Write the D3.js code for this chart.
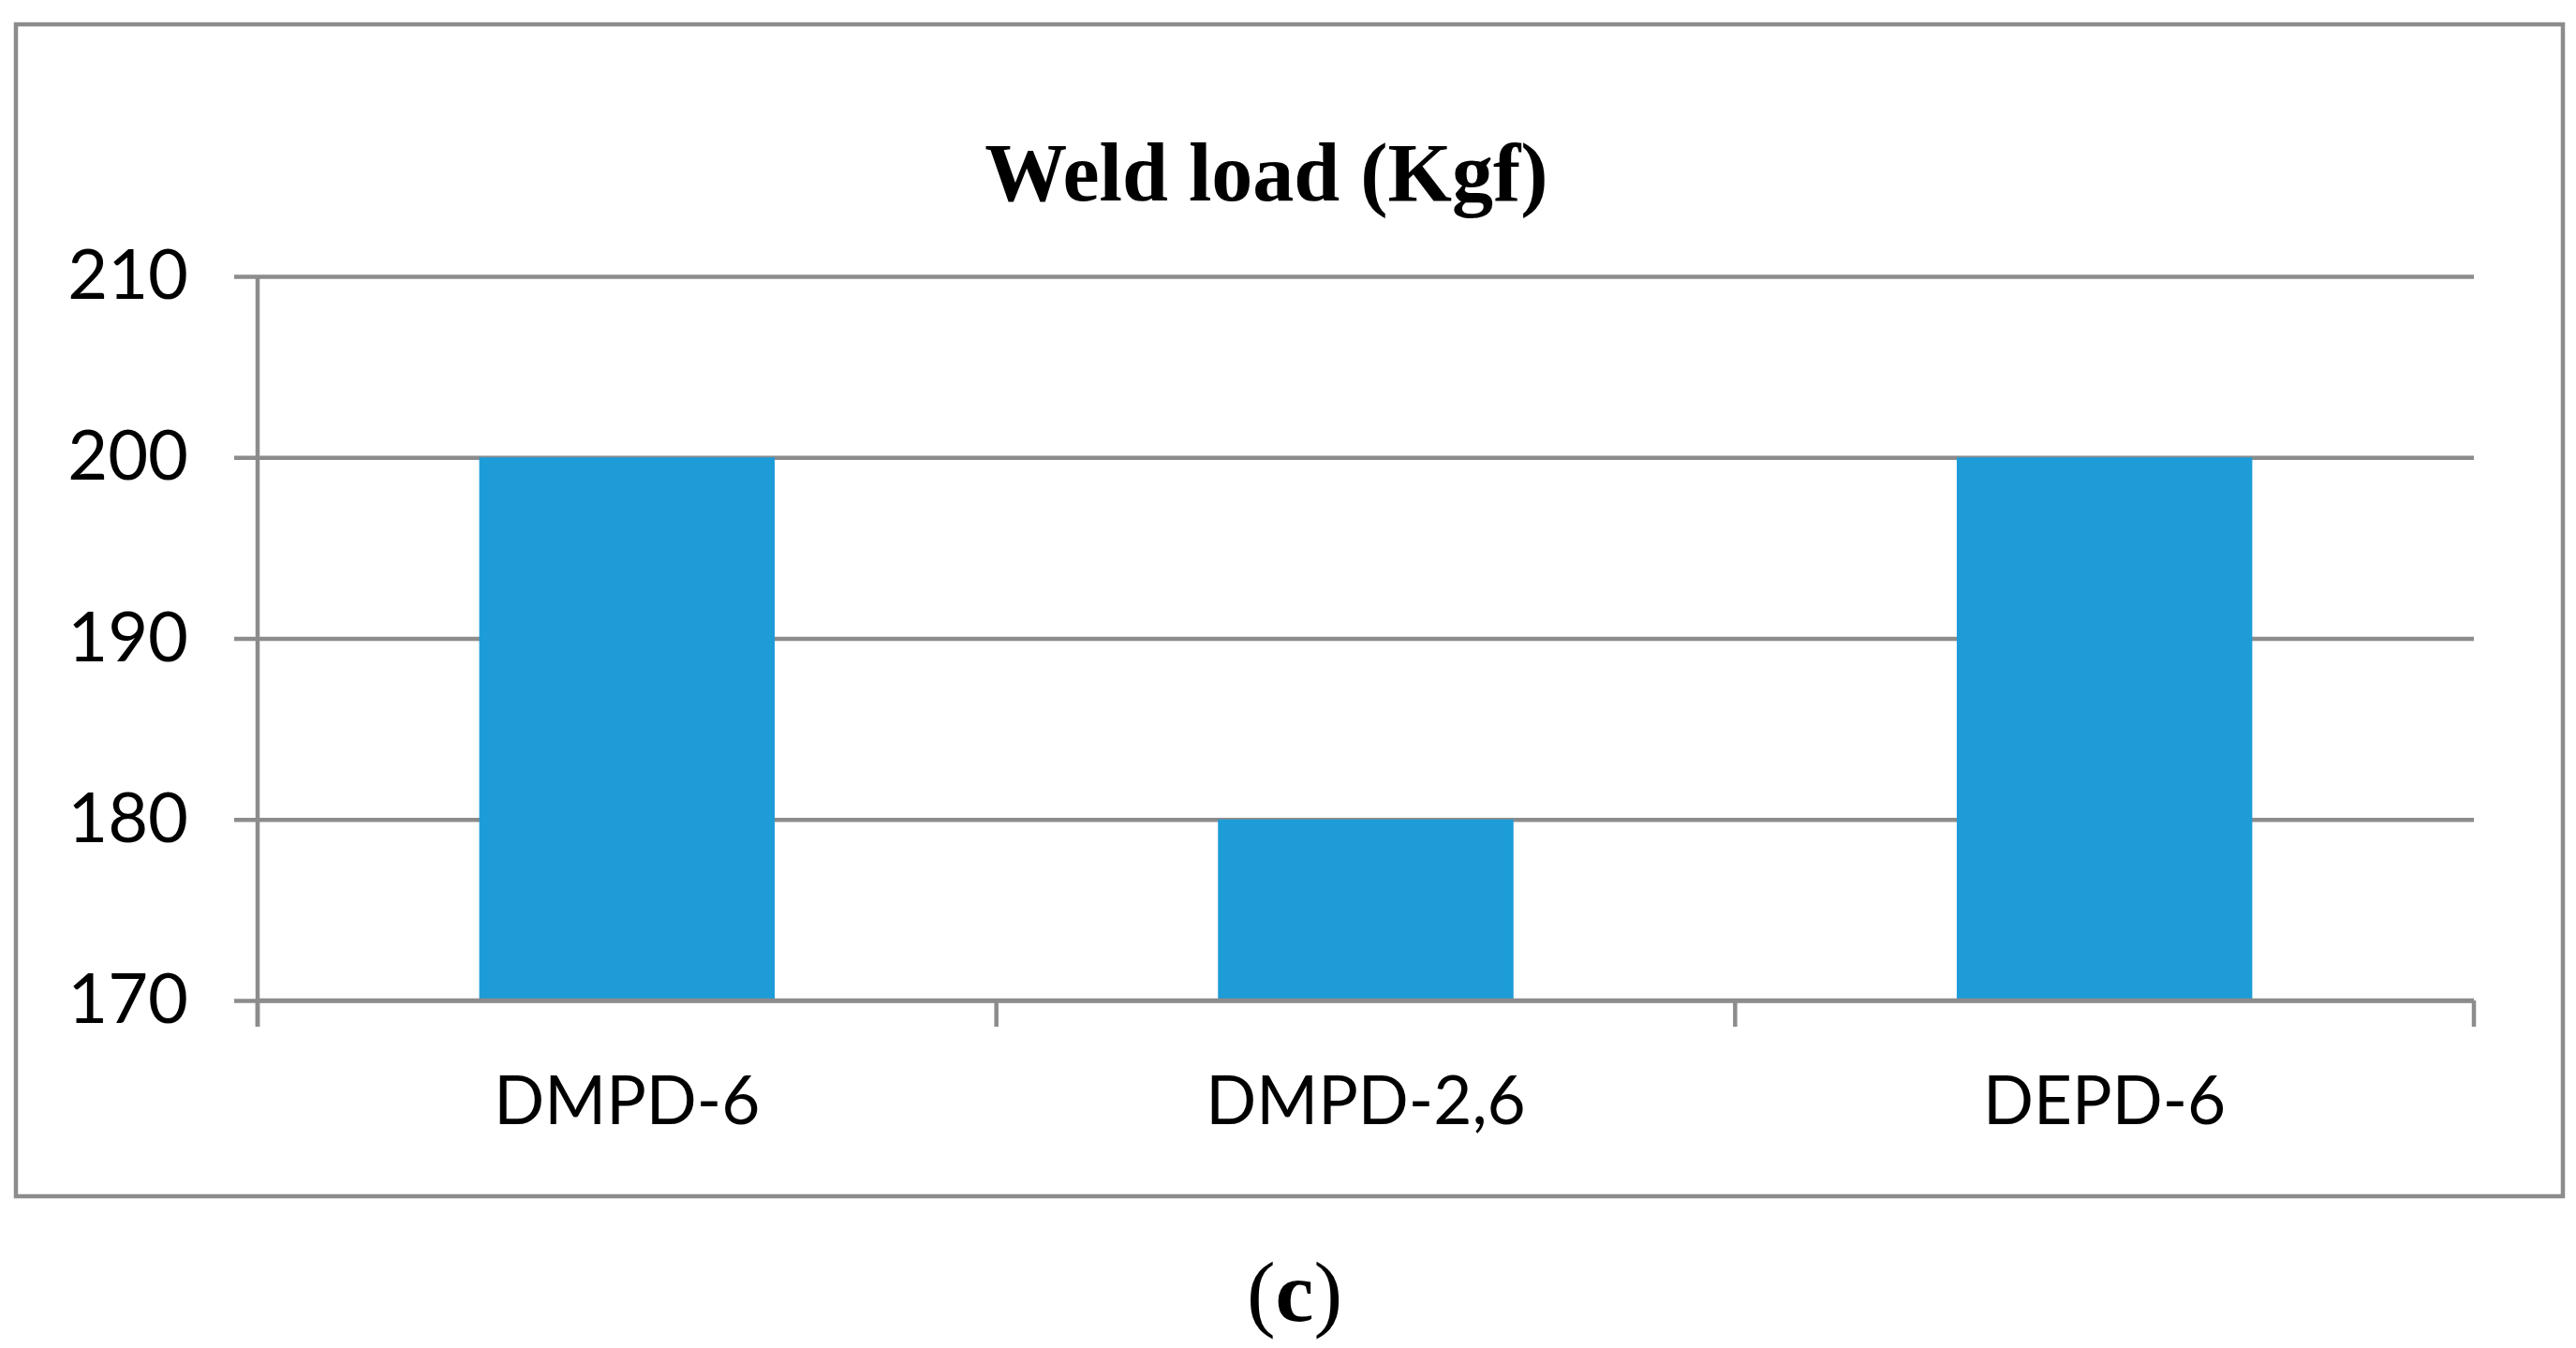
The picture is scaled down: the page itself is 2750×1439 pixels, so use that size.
<!DOCTYPE html>
<html>
<head>
<meta charset="utf-8">
<script src="https://cdn.jsdelivr.net/npm/d3@7"></script>
<style>
  body { margin: 0; background: #fff; }
  .tick text { fill: #000; }
</style>
</head>
<body>
<div class="chart"></div>
<script>
const categories = ["DMPD-6", "DMPD-2,6", "DEPD-6"];
const weldLoad = [200, 180, 200];
const yTicks = [170, 180, 190, 200, 210];
const chartTitle = "Weld load (Kgf)";
const panelLabel = "c";

const width = 2750, height = 1439;
const margin = {left: 275, right: 109, top: 295, bottom: 371};
const innerW = width - margin.left - margin.right;
const innerH = height - margin.top - margin.bottom;
const grey = "#8c8c8c";

var svg = d3.select(".chart").append("svg")
    .attr("width", width)
    .attr("height", height);

// outer frame
svg.append("rect")
    .attr("x", 17).attr("y", 26)
    .attr("width", 2719).attr("height", 1251)
    .attr("fill", "none")
    .attr("stroke", grey)
    .attr("stroke-width", 4.5);

svg.append("text")
    .attr("x", width / 2 - 23)
    .attr("y", 214)
    .attr("text-anchor", "middle")
    .attr("font-family", "'Liberation Serif', serif")
    .attr("font-weight", "bold")
    .attr("font-size", 88)
    .text(chartTitle);

var g = svg.append("g")
    .attr("transform", "translate(" + margin.left + "," + margin.top + ")");

var x = d3.scaleBand()
    .domain(categories)
    .range([0, innerW])
    .paddingInner(0.6)
    .paddingOuter(0.3);

var y = d3.scaleLinear()
    .domain([170, 210])
    .range([innerH, 0]);

// gridlines + outward ticks
var yAxis = g.append("g")
    .call(d3.axisLeft(y).tickValues(yTicks).tickSize(-innerW).tickSizeOuter(0).tickPadding(74))
    .call(a => a.select(".domain").remove());
yAxis.selectAll(".tick line")
    .attr("x1", -25)
    .attr("stroke", grey)
    .attr("stroke-width", 4.5);
yAxis.selectAll(".tick text")
    .attr("font-family", "Lato, sans-serif")
    .attr("font-size", 74);

// bars
g.selectAll(".bar")
    .data(weldLoad)
    .enter().append("rect")
    .attr("class", "bar")
    .attr("x", (d, i) => x(categories[i]))
    .attr("y", d => y(d))
    .attr("width", x.bandwidth())
    .attr("height", d => y(170) - y(d))
    .attr("fill", "#1d9cd8");

// left axis line
g.append("line")
    .attr("x1", 0).attr("x2", 0)
    .attr("y1", 0).attr("y2", innerH + 28)
    .attr("stroke", grey)
    .attr("stroke-width", 4.5);

// bottom baseline drawn over the bars
g.append("line")
    .attr("x1", 0).attr("x2", innerW)
    .attr("y1", innerH).attr("y2", innerH)
    .attr("stroke", grey)
    .attr("stroke-width", 4.5);

// category boundary ticks
g.selectAll(".xtick")
    .data(d3.range(categories.length + 1))
    .enter().append("line")
    .attr("class", "xtick")
    .attr("x1", i => i * x.step())
    .attr("x2", i => i * x.step())
    .attr("y1", innerH)
    .attr("y2", innerH + 28)
    .attr("stroke", grey)
    .attr("stroke-width", 4.5);

var xAxis = g.append("g")
    .attr("transform", "translate(0," + innerH + ")")
    .call(d3.axisBottom(x).tickSize(0).tickPadding(82))
    .call(a => a.select(".domain").remove());
xAxis.selectAll(".tick text")
    .attr("font-family", "Lato, sans-serif")
    .attr("font-size", 71);

// panel label
var lab = svg.append("text")
    .attr("x", width / 2 + 7)
    .attr("y", 1410)
    .attr("text-anchor", "middle")
    .attr("font-family", "'Liberation Serif', serif")
    .attr("font-size", 92);
lab.append("tspan").text("(");
lab.append("tspan").attr("font-weight", "bold").text(panelLabel);
lab.append("tspan").text(")");
</script>
</body>
</html>
